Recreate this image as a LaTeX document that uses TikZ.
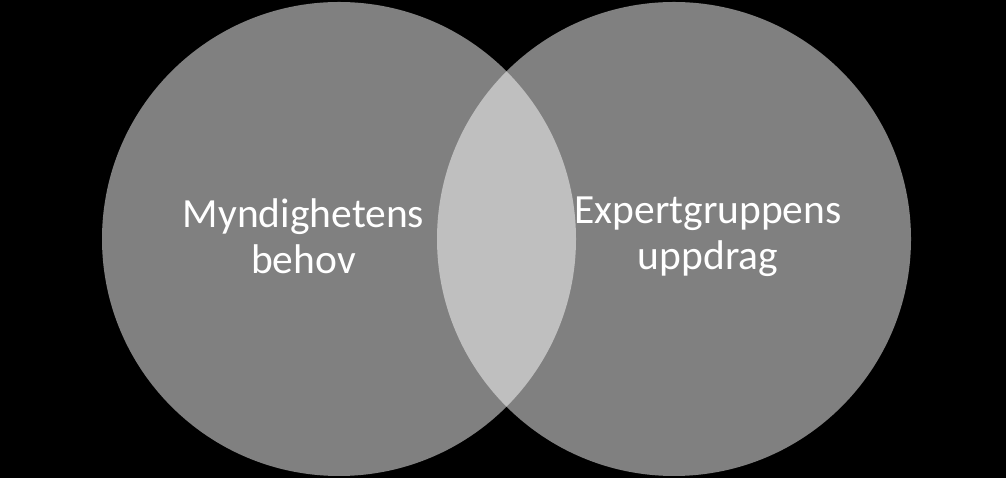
\documentclass[tikz,border=0pt]{standalone}
\usepackage{fontspec}
\setmainfont{Carlito}
\definecolor{circgray}{HTML}{808080}
\definecolor{lensgray}{HTML}{BFBFBF}
\tikzset{
  venn/.style={fill=circgray, draw=none},
  lbl/.style={text=white, align=center, inner sep=0pt, font=\fontsize{41.5}{46}\selectfont}
}
\begin{document}
\begin{tikzpicture}[x=1pt,y=1pt]
\fill[black] (0,0) rectangle (1006,478);
\useasboundingbox (0,0) rectangle (1006,478);
\coordinate (cl) at (339,239);
\coordinate (cr) at (674,239);
\fill[venn] (cl) circle (237);
\fill[venn] (cr) circle (237);
\begin{scope}
  \clip (cl) circle (237);
  \fill[lensgray] (cr) circle (237);
\end{scope}
\node[lbl] (left) at (303.5,241.5) {Myndighetens\\behov};
\node[lbl] (right) at (708,241.5) {Expertgruppens\\uppdrag};
\end{tikzpicture}
\end{document}
